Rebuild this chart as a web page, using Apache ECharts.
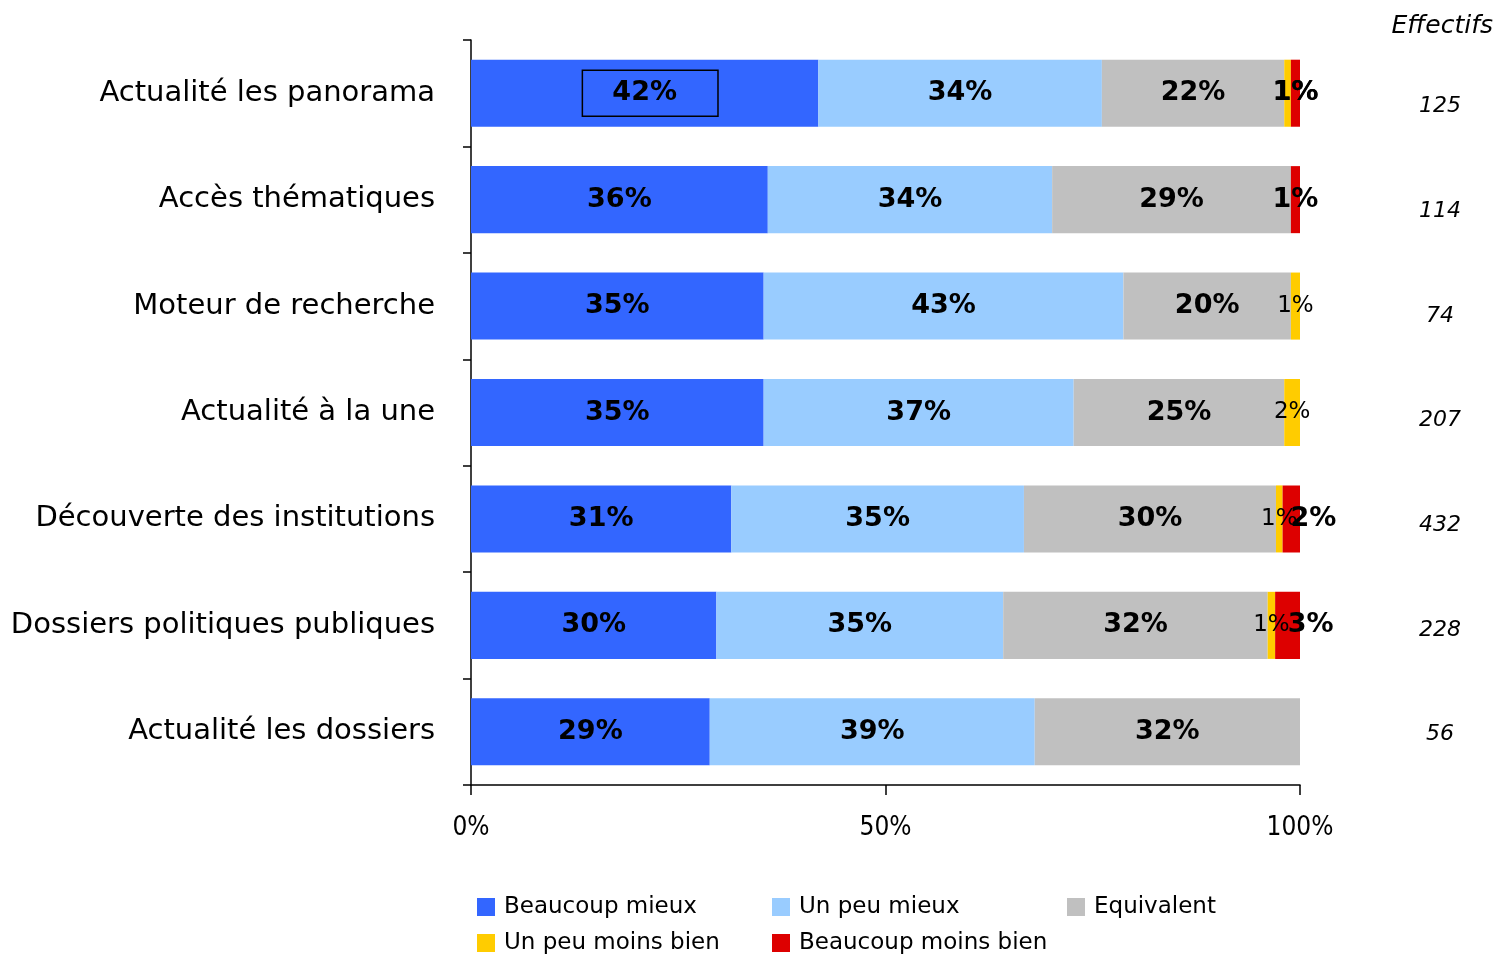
<!DOCTYPE html>
<html><head><meta charset="utf-8">
<script src="https://cdn.jsdelivr.net/npm/echarts@6/dist/echarts.min.js"></script>
<style>html,body{margin:0;padding:0;background:#fff}#c{width:1495px;height:955px}</style>
</head><body><div id="c"></div>
<script>
const categories = ['Actualité les panorama', 'Accès thématiques', 'Moteur de recherche', 'Actualité à la une', 'Découverte des institutions', 'Dossiers politiques publiques', 'Actualité les dossiers'];
const effectifs = ['125', '114', '74', '207', '432', '228', '56'];
const beaucoupMieux = [41.9, 35.8, 35.3, 35.3, 31.4, 29.6, 28.8];
const unPeuMieux = [34.2, 34.3, 43.4, 37.4, 35.3, 34.6, 39.2];
const equivalent = [22.0, 28.8, 20.2, 25.4, 30.4, 31.9, 32.0];
const unPeuMoinsBien = [0.8, 0, 1.1, 1.9, 0.8, 0.9, 0];
const beaucoupMoinsBien = [1.1, 1.1, 0, 0, 2.1, 3.0, 0];
const xTicks = [0, 50, 100];

const FONT = 'DejaVu Sans';
const NARROW = '"Liberation Sans Narrow", "DejaVu Sans Condensed", "DejaVu Sans"';
const fmt = p => (p.value < 0.5 ? '' : Math.round(p.value) + '%');

const bigLabel = { show: true, position: 'inside', formatter: fmt, color: '#000', fontFamily: FONT, fontWeight: 'bold', fontSize: 27 };
const smallLabel = { show: true, position: 'inside', formatter: fmt, color: '#000', fontFamily: FONT, fontWeight: 'normal', fontSize: 23 };

function mk(name, values, color, label, overrides, shifts) {
  const s = {
    name, type: 'bar', stack: 'total', barCategoryGap: '37%',
    itemStyle: { color },
    label,
    emphasis: { disabled: true },
    data: values.map((v, i) => (overrides && overrides[i]) ? { value: v, label: overrides[i] } : v)
  };
  s.labelLayout = function (params) {
    const dx = (shifts && shifts[params.dataIndex]) || 0;
    return { dx: dx, hideOverlap: false };
  };
  return s;
}

const option = {
  animation: false,
  backgroundColor: '#fff',
  title: { text: 'Effectifs', right: 2, top: 14, padding: 0, textStyle: { fontFamily: FONT, fontStyle: 'italic', fontWeight: 'normal', fontSize: 25, color: '#000' } },
  grid: [
    { left: 471, right: 195, top: 40, bottom: 170 },
    { left: 471, right: 195, top: 54, bottom: 168 }
  ],
  legend: {
    left: 477, top: 894, width: 900, padding: 0, itemGap: 10, itemWidth: 18, itemHeight: 18, icon: 'rect',
    selectedMode: false,
    textStyle: { fontFamily: FONT, fontSize: 23, color: '#000', width: 258, lineHeight: 26, padding: [0, 0, 0, 4] },
    data: ['Beaucoup mieux', 'Un peu mieux', 'Equivalent', 'Un peu moins bien', 'Beaucoup moins bien']
  },
  xAxis: [{
    type: 'value', gridIndex: 0, min: xTicks[0], max: xTicks[xTicks.length - 1], interval: 50,
    axisLine: { show: true, lineStyle: { color: '#000', width: 1.5 } },
    axisTick: { show: true, length: 10, lineStyle: { color: '#000', width: 1.5 } },
    splitLine: { show: false },
    axisLabel: { formatter: '{value}%', margin: 30, fontFamily: NARROW, fontSize: 26, color: '#000' }
  }, {
    type: 'value', gridIndex: 1, min: 0, max: 100, show: false
  }],
  yAxis: [{
    type: 'category', gridIndex: 0, data: categories, inverse: true,
    axisLine: { show: true, lineStyle: { color: '#000', width: 1.5 } },
    axisTick: { show: true, length: 8, lineStyle: { color: '#000', width: 1.5 } },
    axisLabel: { margin: 36, fontFamily: FONT, fontSize: 29, color: '#000' }
  }, {
    type: 'category', gridIndex: 1, data: effectifs, inverse: true, position: 'right',
    axisLine: { show: false }, axisTick: { show: false },
    axisLabel: { margin: 140, align: 'center', fontFamily: FONT, fontStyle: 'italic', fontSize: 22, color: '#000' }
  }],
  series: [
    mk('Beaucoup mieux', beaucoupMieux, '#3366FF', bigLabel, { 0: { borderColor: '#000', borderWidth: 1.5, padding: [10, 41, 9, 30] } }, { 0: 5.5 }),
    mk('Un peu mieux', unPeuMieux, '#99CCFF', bigLabel),
    mk('Equivalent', equivalent, '#C0C0C0', bigLabel),
    mk('Un peu moins bien', unPeuMoinsBien, '#FFCC00', smallLabel, { 0: { fontWeight: 'bold', fontSize: 27 } }, { 0: 8 }),
    mk('Beaucoup moins bien', beaucoupMoinsBien, '#DD0000', bigLabel, null, { 4: 22, 5: 23 })
  ]
};
echarts.init(document.getElementById('c')).setOption(option);
</script></body></html>
